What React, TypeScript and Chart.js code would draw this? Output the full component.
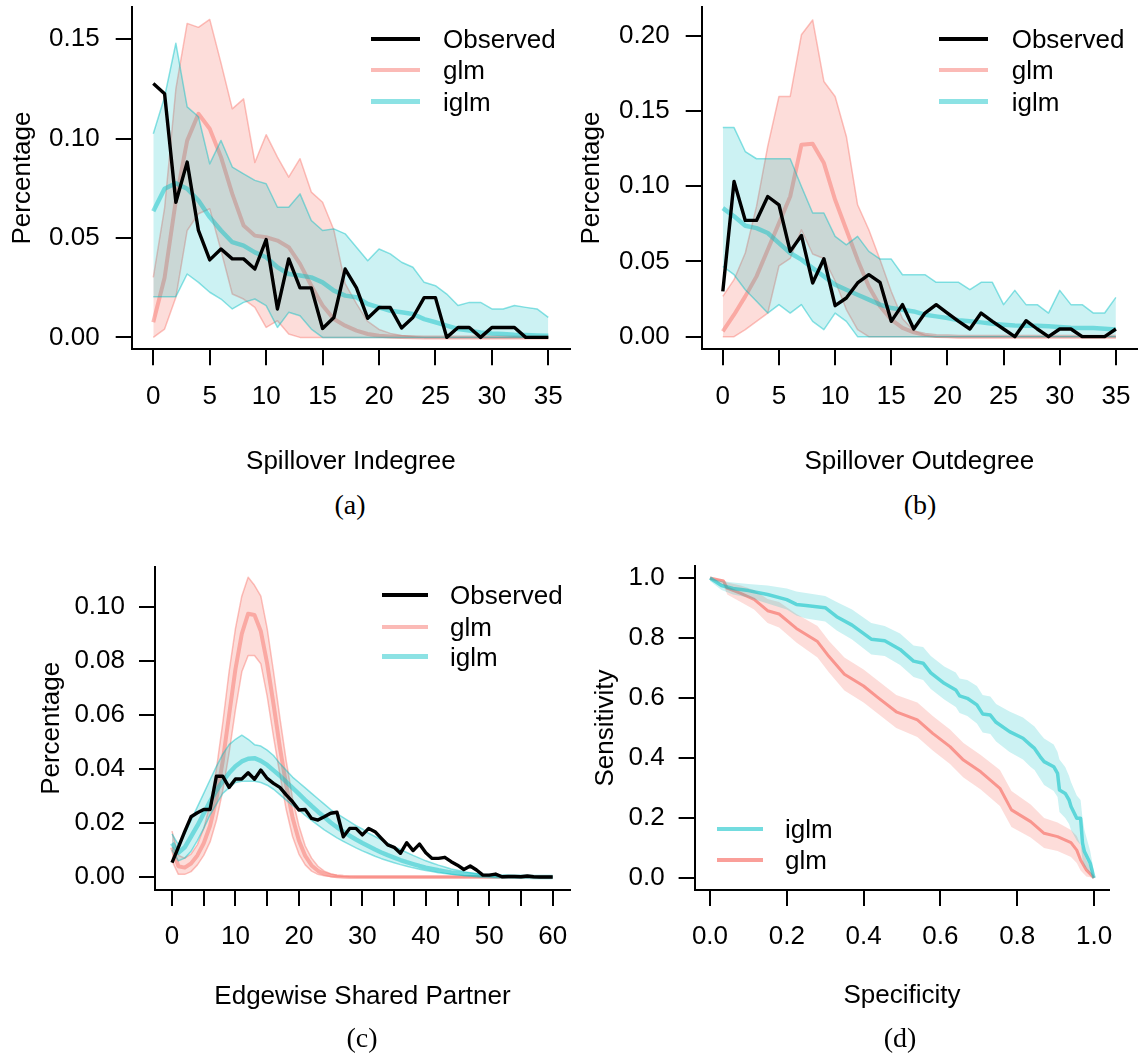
import React, { useEffect, useRef } from "react";
import { Chart, registerables } from "chart.js";

Chart.register(...registerables);

const FONT = "'Liberation Sans', Arial, Helvetica, sans-serif";
const SERIF = "'Liberation Serif', 'DejaVu Serif', serif";

// ---------- categories ----------
const degree = [0, 1, 2, 3, 4, 5, 6, 7, 8, 9, 10, 11, 12, 13, 14, 15, 16, 17, 18, 19, 20, 21, 22, 23, 24, 25, 26, 27, 28, 29, 30, 31, 32, 33, 34, 35];
const esp = [0, 1, 2, 3, 4, 5, 6, 7, 8, 9, 10, 11, 12, 13, 14, 15, 16, 17, 18, 19, 20, 21, 22, 23, 24, 25, 26, 27, 28, 29, 30, 31, 32, 33, 34, 35, 36, 37, 38, 39, 40, 41, 42, 43, 44, 45, 46, 47, 48, 49, 50, 51, 52, 53, 54, 55, 56, 57, 58, 59, 60];

// ---------- tick values ----------
const degreeTicks = [0, 5, 10, 15, 20, 25, 30, 35];
const espTicks = [0, 5, 10, 15, 20, 25, 30, 35, 40, 45, 50, 55, 60];
const pctTicksA = [0, 0.05, 0.1, 0.15];
const pctTicksB = [0, 0.05, 0.1, 0.15, 0.2];
const pctTicksC = [0, 0.02, 0.04, 0.06, 0.08, 0.1];
const rocTicks = [0, 0.2, 0.4, 0.6, 0.8, 1.0];

// ---------- (a) Spillover Indegree ----------
const obsA = [0.1277, 0.1226, 0.068, 0.0882, 0.0538, 0.039, 0.0445, 0.0395, 0.0395, 0.0344, 0.0492, 0.0143, 0.0395, 0.0249, 0.0249, 0.0045, 0.01, 0.0344, 0.0249, 0.0096, 0.015, 0.015, 0.0047, 0.01, 0.02, 0.02, 0, 0.005, 0.005, 0, 0.005, 0.005, 0.005, 0, 0, 0];
const iglmMeanA = [0.0635, 0.0748, 0.0776, 0.0748, 0.0689, 0.0605, 0.0538, 0.0479, 0.0462, 0.0428, 0.0403, 0.0353, 0.0319, 0.0311, 0.0302, 0.0277, 0.0235, 0.021, 0.0202, 0.0168, 0.0151, 0.0134, 0.0126, 0.0118, 0.0092, 0.0076, 0.0059, 0.0042, 0.0034, 0.0025, 0.002, 0.0017, 0.0013, 0.0012, 0.001, 0.0008];
const iglmUpA = [0.1025, 0.121, 0.148, 0.116, 0.111, 0.0873, 0.0991, 0.0857, 0.0823, 0.079, 0.0773, 0.0655, 0.0655, 0.0722, 0.0588, 0.0538, 0.0546, 0.0521, 0.0454, 0.0386, 0.0445, 0.042, 0.0378, 0.0353, 0.0277, 0.026, 0.0218, 0.016, 0.0176, 0.0176, 0.0143, 0.0143, 0.016, 0.0151, 0.0143, 0.0101];
const iglmLoA = [0.0205, 0.0205, 0.0205, 0.0319, 0.0277, 0.0227, 0.0193, 0.0143, 0.0176, 0.0193, 0.016, 0.005, 0.0126, 0.0109, 0.0042, 0, 0, 0, 0, 0, 0, 0, 0, 0, 0, 0, 0, 0, 0, 0, 0, 0, 0, 0, 0, 0];
const glmMeanA = [0.0076, 0.03, 0.069, 0.099, 0.1125, 0.105, 0.0907, 0.0722, 0.0563, 0.0512, 0.0504, 0.0487, 0.0454, 0.037, 0.026, 0.016, 0.0092, 0.0059, 0.0034, 0.0017, 0.0008, 0.0004, 0.0002, 0.0001, 0, 0, 0, 0, 0, 0, 0, 0, 0, 0, 0, 0];
const glmUpA = [0.0302, 0.065, 0.125, 0.158, 0.156, 0.16, 0.138, 0.115, 0.12, 0.088, 0.102, 0.0907, 0.0806, 0.0899, 0.0731, 0.068, 0.054, 0.027, 0.017, 0.008, 0.004, 0.002, 0.001, 0.0005, 0, 0, 0, 0, 0, 0, 0, 0, 0, 0, 0, 0];
const glmLoA = [0, 0.0042, 0.0202, 0.0538, 0.0622, 0.0647, 0.0437, 0.0218, 0.0193, 0.0151, 0.005, 0.0084, 0.0017, 0, 0, 0, 0, 0, 0, 0, 0, 0, 0, 0, 0, 0, 0, 0, 0, 0, 0, 0, 0, 0, 0, 0];

// ---------- (b) Spillover Outdegree ----------
const obsB = [0.0301, 0.1032, 0.0773, 0.0773, 0.0932, 0.0877, 0.0567, 0.0673, 0.0357, 0.0518, 0.0206, 0.0257, 0.0357, 0.0412, 0.0361, 0.0102, 0.0213, 0.0051, 0.0157, 0.0213, 0.0157, 0.0102, 0.0051, 0.0157, 0.0102, 0.0051, 0, 0.0106, 0.0051, 0, 0.0051, 0.0051, 0, 0, 0, 0.0051];
const iglmMeanB = [0.0855, 0.08, 0.0738, 0.0722, 0.0689, 0.0622, 0.0556, 0.0512, 0.0456, 0.0401, 0.0346, 0.0312, 0.0279, 0.0246, 0.0213, 0.019, 0.0179, 0.0168, 0.0146, 0.0135, 0.0124, 0.0109, 0.0102, 0.0095, 0.0086, 0.008, 0.0075, 0.0073, 0.0073, 0.0069, 0.0064, 0.006, 0.0058, 0.0058, 0.0053, 0.0047];
const iglmUpB = [0.139, 0.139, 0.1231, 0.1183, 0.1183, 0.1183, 0.1183, 0.0999, 0.0822, 0.0822, 0.0667, 0.0611, 0.0667, 0.0567, 0.0516, 0.0516, 0.0412, 0.0412, 0.0412, 0.0361, 0.0361, 0.0361, 0.0312, 0.0361, 0.0361, 0.0213, 0.0308, 0.0213, 0.0213, 0.0157, 0.0308, 0.0213, 0.0213, 0.0157, 0.0157, 0.0261];
const iglmLoB = [0.0467, 0.0412, 0.0312, 0.0235, 0.0157, 0.0213, 0.0157, 0.0213, 0.0102, 0.0047, 0.0157, 0.0102, 0, 0, 0, 0, 0, 0, 0, 0, 0, 0, 0, 0, 0, 0, 0, 0, 0, 0, 0, 0, 0, 0, 0, 0];
const glmMeanB = [0.0035, 0.0146, 0.0268, 0.0401, 0.0578, 0.0755, 0.0932, 0.1276, 0.1282, 0.1154, 0.091, 0.0711, 0.0512, 0.0334, 0.0202, 0.0113, 0.0058, 0.0029, 0.0013, 0.0005, 0.0002, 0, 0, 0, 0, 0, 0, 0, 0, 0, 0, 0, 0, 0, 0, 0];
const glmUpB = [0.0268, 0.0379, 0.0556, 0.0866, 0.1265, 0.1597, 0.1597, 0.2007, 0.2106, 0.1697, 0.1597, 0.1331, 0.0877, 0.0711, 0.0512, 0.03, 0.012, 0.004, 0.001, 0, 0, 0, 0, 0, 0, 0, 0, 0, 0, 0, 0, 0, 0, 0, 0, 0];
const glmLoB = [0, 0, 0.0047, 0.0102, 0.0157, 0.047, 0.052, 0.071, 0.055, 0.052, 0.037, 0.018, 0.0047, 0, 0, 0, 0, 0, 0, 0, 0, 0, 0, 0, 0, 0, 0, 0, 0, 0, 0, 0, 0, 0, 0, 0];

// ---------- (c) Edgewise Shared Partner ----------
const obsC = [0.0053, 0.011, 0.0168, 0.0223, 0.0238, 0.025, 0.025, 0.0373, 0.0373, 0.0332, 0.0363, 0.0363, 0.0386, 0.0362, 0.0396, 0.0365, 0.0347, 0.0332, 0.0304, 0.0279, 0.0248, 0.025, 0.0217, 0.0211, 0.0223, 0.0236, 0.024, 0.0149, 0.018, 0.018, 0.0156, 0.018, 0.0168, 0.0143, 0.0119, 0.011, 0.0088, 0.0127, 0.0098, 0.0122, 0.009, 0.0069, 0.0069, 0.0073, 0.0057, 0.0044, 0.0028, 0.0041, 0.0026, 0.0007, 0.0007, 0.0011, 0.0001, 0.0002, 0.0002, 0.0001, 0.0004, 0.0001, 0, 0, 0];
const iglmMeanC = [0.0125, 0.009, 0.011, 0.015, 0.019, 0.0235, 0.028, 0.032, 0.0355, 0.0385, 0.041, 0.0428, 0.0438, 0.044, 0.043, 0.0415, 0.0395, 0.0375, 0.0352, 0.033, 0.0308, 0.0285, 0.0263, 0.0242, 0.0222, 0.0202, 0.0184, 0.0168, 0.0153, 0.0139, 0.0126, 0.0114, 0.0102, 0.0091, 0.0081, 0.0072, 0.0063, 0.0055, 0.0048, 0.0041, 0.0035, 0.003, 0.0025, 0.0021, 0.0017, 0.0014, 0.0011, 0.0009, 0.0007, 0.0005, 0.0004, 0.0003, 0.0002, 0.0002, 0.0001, 0.0001, 0.0001, 0, 0, 0, 0];
const iglmUpC = [0.016, 0.012, 0.016, 0.021, 0.026, 0.031, 0.036, 0.041, 0.0455, 0.049, 0.051, 0.0525, 0.051, 0.049, 0.0485, 0.047, 0.045, 0.042, 0.0395, 0.037, 0.035, 0.033, 0.031, 0.029, 0.027, 0.025, 0.0235, 0.022, 0.0205, 0.019, 0.0178, 0.0162, 0.015, 0.0138, 0.0125, 0.0112, 0.0102, 0.0091, 0.008, 0.007, 0.006, 0.0052, 0.0044, 0.0037, 0.003, 0.0025, 0.002, 0.0016, 0.0012, 0.0009, 0.0007, 0.0005, 0.0004, 0.0003, 0.0002, 0.0002, 0.0001, 0, 0, 0, 0];
const iglmLoC = [0.01, 0.006, 0.007, 0.0095, 0.0135, 0.018, 0.023, 0.027, 0.031, 0.033, 0.035, 0.0355, 0.0355, 0.0355, 0.035, 0.034, 0.0325, 0.0305, 0.0285, 0.0265, 0.0248, 0.0228, 0.021, 0.0192, 0.0175, 0.016, 0.0145, 0.0132, 0.012, 0.0108, 0.0097, 0.0087, 0.0077, 0.0068, 0.006, 0.0053, 0.0046, 0.004, 0.0034, 0.0029, 0.0024, 0.002, 0.0016, 0.0013, 0.001, 0.0008, 0.0006, 0.0005, 0.0004, 0.0003, 0.0002, 0, 0, 0, 0, 0, 0, 0, 0, 0, 0];
const glmMeanC = [0.011, 0.004, 0.0035, 0.005, 0.008, 0.0125, 0.019, 0.029, 0.043, 0.06, 0.077, 0.09, 0.0975, 0.097, 0.091, 0.079, 0.064, 0.048, 0.034, 0.022, 0.0135, 0.0078, 0.0043, 0.0023, 0.0012, 0.0006, 0.0003, 0.0001, 0, 0, 0, 0, 0, 0, 0, 0, 0, 0, 0, 0, 0, 0, 0, 0, 0, 0, 0, 0, 0, 0, 0, 0, 0, 0, 0, 0, 0, 0, 0, 0, 0];
const glmUpC = [0.017, 0.008, 0.007, 0.0085, 0.012, 0.018, 0.027, 0.04, 0.057, 0.076, 0.092, 0.104, 0.111, 0.108, 0.104, 0.092, 0.076, 0.059, 0.043, 0.029, 0.019, 0.0115, 0.007, 0.004, 0.0022, 0.0012, 0.0006, 0.0003, 0.0001, 0, 0, 0, 0, 0, 0, 0, 0, 0, 0, 0, 0, 0, 0, 0, 0, 0, 0, 0, 0, 0, 0, 0, 0, 0, 0, 0, 0, 0, 0, 0, 0];
const glmLoC = [0.006, 0.001, 0.001, 0.002, 0.0045, 0.008, 0.013, 0.021, 0.032, 0.046, 0.062, 0.076, 0.082, 0.082, 0.079, 0.067, 0.052, 0.038, 0.025, 0.015, 0.0085, 0.0045, 0.0022, 0.001, 0.0005, 0.0002, 0, 0, 0, 0, 0, 0, 0, 0, 0, 0, 0, 0, 0, 0, 0, 0, 0, 0, 0, 0, 0, 0, 0, 0, 0, 0, 0, 0, 0, 0, 0, 0, 0, 0, 0];

// ---------- (d) ROC ----------
const specIglm = [0, 0.03, 0.06, 0.1, 0.15, 0.2, 0.225, 0.25, 0.3, 0.33, 0.37, 0.42, 0.455, 0.495, 0.53, 0.555, 0.575, 0.61, 0.64, 0.65, 0.67, 0.695, 0.71, 0.73, 0.745, 0.78, 0.815, 0.835, 0.845, 0.86, 0.87, 0.895, 0.905, 0.91, 0.925, 0.935, 0.94, 0.955, 0.965, 0.97, 0.975, 0.99, 1.0];
const sensIglm = [1.0, 0.975, 0.965, 0.958, 0.945, 0.928, 0.912, 0.908, 0.901, 0.871, 0.843, 0.796, 0.791, 0.762, 0.723, 0.716, 0.684, 0.649, 0.627, 0.607, 0.599, 0.577, 0.547, 0.543, 0.519, 0.488, 0.466, 0.443, 0.432, 0.404, 0.388, 0.371, 0.349, 0.293, 0.282, 0.26, 0.238, 0.199, 0.199, 0.116, 0.088, 0.049, 0.0];
const upIglm = [1.0, 0.99, 0.985, 0.98, 0.975, 0.965, 0.955, 0.95, 0.94, 0.92, 0.895, 0.85, 0.84, 0.815, 0.775, 0.77, 0.74, 0.705, 0.685, 0.665, 0.66, 0.64, 0.61, 0.605, 0.58, 0.555, 0.535, 0.515, 0.505, 0.48, 0.465, 0.445, 0.42, 0.395, 0.37, 0.34, 0.32, 0.275, 0.26, 0.2, 0.16, 0.09, 0.02];
const loIglm = [0.99, 0.96, 0.945, 0.935, 0.915, 0.895, 0.875, 0.865, 0.855, 0.825, 0.795, 0.745, 0.74, 0.71, 0.67, 0.66, 0.63, 0.595, 0.57, 0.55, 0.54, 0.515, 0.485, 0.48, 0.455, 0.42, 0.395, 0.37, 0.36, 0.33, 0.31, 0.29, 0.27, 0.22, 0.2, 0.18, 0.16, 0.125, 0.11, 0.06, 0.04, 0.015, 0.0];
const specGlm = [0, 0.035, 0.045, 0.08, 0.115, 0.15, 0.18, 0.225, 0.28, 0.31, 0.35, 0.4, 0.435, 0.485, 0.54, 0.58, 0.625, 0.66, 0.705, 0.755, 0.785, 0.835, 0.87, 0.905, 0.94, 0.955, 0.965, 0.98, 1.0];
const sensGlm = [1.0, 0.99, 0.966, 0.949, 0.929, 0.891, 0.88, 0.832, 0.788, 0.738, 0.679, 0.64, 0.604, 0.554, 0.527, 0.482, 0.438, 0.393, 0.354, 0.299, 0.227, 0.188, 0.149, 0.138, 0.118, 0.093, 0.06, 0.027, 0.0];
const upGlm = [1.0, 0.995, 0.985, 0.975, 0.96, 0.93, 0.92, 0.88, 0.84, 0.79, 0.735, 0.695, 0.66, 0.61, 0.585, 0.54, 0.495, 0.45, 0.41, 0.36, 0.29, 0.245, 0.2, 0.185, 0.16, 0.14, 0.11, 0.06, 0.01];
const loGlm = [0.995, 0.975, 0.945, 0.92, 0.895, 0.85, 0.835, 0.785, 0.735, 0.685, 0.625, 0.585, 0.55, 0.5, 0.47, 0.425, 0.38, 0.335, 0.295, 0.24, 0.17, 0.135, 0.1, 0.09, 0.07, 0.05, 0.025, 0.005, 0.0];

// ---------- styles ----------
const TEAL_FILL = "rgba(0,191,196,0.2)";
const TEAL_EDGE = "rgba(0,191,196,0.45)";
const TEAL_MEAN = "rgba(0,191,196,0.45)";
const PINK_FILL = "rgba(248,118,109,0.25)";
const PINK_EDGE = "rgba(248,118,109,0.45)";
const PINK_MEAN = "rgba(248,118,109,0.5)";
const TEAL_ROC = "rgba(0,191,196,0.55)";
const PINK_ROC = "rgba(248,118,109,0.7)";
const OBS_W = 3.4;

const xy = (xs: number[], ys: number[]) => xs.map((x, i) => ({ x, y: ys[i] }));

function line(data: any, color: string, width: number, extra: any = {}) {
  return {
    data,
    borderColor: color,
    borderWidth: width,
    backgroundColor: "transparent",
    pointRadius: 0,
    pointHoverRadius: 0,
    tension: 0,
    fill: false,
    borderJoinStyle: "round",
    ...extra,
  };
}

function degreeDatasets(xs: number[], obs: number[], im: number[], iu: number[], il: number[], gm: number[], gu: number[], gl: number[]) {
  return [
    line(xy(xs, obs), "#000", OBS_W),
    line(xy(xs, im), TEAL_MEAN, 4.5),
    line(xy(xs, iu), TEAL_EDGE, 1.5, { fill: "+1", backgroundColor: TEAL_FILL }),
    line(xy(xs, il), TEAL_EDGE, 1.5),
    line(xy(xs, gm), PINK_MEAN, 4),
    line(xy(xs, gu), PINK_EDGE, 1.5, { fill: "+1", backgroundColor: PINK_FILL }),
    line(xy(xs, gl), PINK_EDGE, 1.5),
  ];
}

const rocDatasets = [
  line(xy(specIglm, sensIglm), TEAL_ROC, 3.5),
  line(xy(specIglm, upIglm), "transparent", 0, { fill: "+1", backgroundColor: TEAL_FILL }),
  line(xy(specIglm, loIglm), "transparent", 0),
  line(xy(specGlm, sensGlm), PINK_ROC, 3),
  line(xy(specGlm, upGlm), "transparent", 0, { fill: "+1", backgroundColor: PINK_FILL }),
  line(xy(specGlm, loGlm), "transparent", 0),
];

type AxisSpec = {
  min: number;
  max: number;
  ticks: number[];
  fmt: (v: number) => string;
  title: string;
  size: number;
  tickPad: number;
  titlePad: number;
};

function makeScale(o: AxisSpec, horizontal: boolean) {
  return {
    type: "linear",
    position: horizontal ? "bottom" : "left",
    min: o.min,
    max: o.max,
    bounds: "data",
    afterBuildTicks: (s: any) => {
      s.ticks = o.ticks.map((v) => ({ value: v }));
    },
    afterFit: (s: any) => {
      if (horizontal) s.height = o.size;
      else s.width = o.size;
      s.paddingLeft = 0;
      s.paddingRight = 0;
      s.paddingTop = 0;
      s.paddingBottom = 0;
    },
    ticks: {
      autoSkip: false,
      maxRotation: 0,
      minRotation: 0,
      color: "#000",
      font: { family: FONT, size: 26 },
      padding: o.tickPad,
      callback: (v: any) => o.fmt(Number(v)),
    },
    grid: {
      display: true,
      drawOnChartArea: false,
      drawTicks: true,
      tickLength: 16,
      tickWidth: 2,
      tickColor: "#000",
      color: "#000",
      lineWidth: 2,
    },
    border: { display: true, color: "#000", width: 2 },
    title: {
      display: true,
      text: o.title,
      color: "#000",
      font: { family: FONT, size: 26 },
      padding: horizontal ? { top: 0, bottom: o.titlePad } : { top: o.titlePad, bottom: 0 },
    },
  };
}

type PanelSpec = {
  left: number;
  top: number;
  width: number;
  height: number;
  padding: { left: number; right: number; top: number; bottom: number };
  x: AxisSpec;
  y: AxisSpec;
  datasets: any[];
};

const fmtInt = (v: number) => String(Math.round(v));
const fmt2 = (v: number) => v.toFixed(2);
const fmt1 = (v: number) => v.toFixed(1);
const fmtTen = (v: number) => (Math.round(v) % 10 === 0 ? String(Math.round(v)) : "");

const panelA: PanelSpec = {
  left: 0, top: 0, width: 575, height: 485,
  padding: { left: 0, right: 5, top: 6.7, bottom: 0 },
  x: { min: -1.914, max: 36.923, ticks: degreeTicks, fmt: fmtInt, title: "Spillover Indegree", size: 135.7, tickPad: 16, titlePad: 7.7 },
  y: { min: -0.006, max: 0.1664, ticks: pctTicksA, fmt: fmt2, title: "Percentage", size: 131.7, tickPad: 16, titlePad: 6.9 },
  datasets: degreeDatasets(degree, obsA, iglmMeanA, iglmUpA, iglmLoA, glmMeanA, glmUpA, glmLoA),
};

const panelB: PanelSpec = {
  left: 575, top: 0, width: 565, height: 485,
  padding: { left: 0, right: 3, top: 6.7, bottom: 0 },
  x: { min: -1.88, max: 36.88, ticks: degreeTicks, fmt: fmtInt, title: "Spillover Outdegree", size: 135.7, tickPad: 16, titlePad: 7.7 },
  y: { min: -0.0084, max: 0.2194, ticks: pctTicksB, fmt: fmt2, title: "Percentage", size: 126.7, tickPad: 16, titlePad: 1.1 },
  datasets: degreeDatasets(degree, obsB, iglmMeanB, iglmUpB, iglmLoB, glmMeanB, glmUpB, glmLoB),
};

const panelC: PanelSpec = {
  left: 0, top: 540, width: 575, height: 485,
  padding: { left: 0, right: 5, top: 26.7, bottom: 0 },
  x: { min: -2.68, max: 62.73, ticks: espTicks, fmt: fmtTen, title: "Edgewise Shared Partner", size: 135, tickPad: 15, titlePad: 12.7 },
  y: { min: -0.0048, max: 0.1149, ticks: pctTicksC, fmt: fmt2, title: "Percentage", size: 155, tickPad: 14, titlePad: 36.4 },
  datasets: degreeDatasets(esp, obsC, iglmMeanC, iglmUpC, iglmLoC, glmMeanC, glmUpC, glmLoC),
};

const panelD: PanelSpec = {
  left: 575, top: 540, width: 565, height: 485,
  padding: { left: 0, right: 30.6, top: 26, bottom: 0 },
  x: { min: -0.04, max: 1.04, ticks: rocTicks, fmt: fmt1, title: "Specificity", size: 135, tickPad: 15, titlePad: 13.4 },
  y: { min: -0.04, max: 1.04, ticks: rocTicks, fmt: fmt1, title: "Sensitivity", size: 119.6, tickPad: 14, titlePad: 15.4 },
  datasets: rocDatasets,
};

function ChartPanel({ spec }: { spec: PanelSpec }) {
  const ref = useRef<HTMLCanvasElement | null>(null);
  useEffect(() => {
    if (!ref.current) return;
    const chart = new Chart(ref.current, {
      type: "line",
      data: { datasets: spec.datasets },
      options: {
        responsive: false,
        maintainAspectRatio: false,
        devicePixelRatio: 1,
        animation: false,
        parsing: true,
        layout: { padding: spec.padding, autoPadding: false },
        plugins: { legend: { display: false }, tooltip: { enabled: false }, title: { display: false } },
        scales: {
          x: makeScale(spec.x, true),
          y: makeScale(spec.y, false),
        },
      } as any,
    });
    return () => chart.destroy();
  }, [spec]);
  return (
    <canvas
      ref={ref}
      width={spec.width}
      height={spec.height}
      style={{ position: "absolute", left: spec.left, top: spec.top, width: spec.width, height: spec.height }}
    />
  );
}

type LegendItem = { label: string; color: string; w: number };

function Legend({ items, x1, x2, tx, rows }: { items: LegendItem[]; x1: number; x2: number; tx: number; rows: number[] }) {
  return (
    <>
      {items.map((it, i) => (
        <React.Fragment key={i}>
          <div style={{ position: "absolute", left: x1, top: rows[i] - it.w / 2, width: x2 - x1, height: it.w, background: it.color }} />
          <div
            style={{
              position: "absolute",
              left: tx,
              top: rows[i] - 15,
              fontFamily: FONT,
              fontSize: 26,
              lineHeight: "30px",
              color: "#000",
              whiteSpace: "nowrap",
            }}
          >
            {it.label}
          </div>
        </React.Fragment>
      ))}
    </>
  );
}

function Caption({ text, cx, cy }: { text: string; cx: number; cy: number }) {
  return (
    <div
      style={{
        position: "absolute",
        left: cx - 50,
        width: 100,
        top: cy - 18,
        textAlign: "center",
        fontFamily: SERIF,
        fontSize: 28,
        lineHeight: "32px",
        color: "#000",
      }}
    >
      {text}
    </div>
  );
}

const threeItems: LegendItem[] = [
  { label: "Observed", color: "#000", w: OBS_W },
  { label: "glm", color: PINK_MEAN, w: 4 },
  { label: "iglm", color: TEAL_MEAN, w: 4.5 },
];
const rocItems: LegendItem[] = [
  { label: "iglm", color: TEAL_ROC, w: 4 },
  { label: "glm", color: PINK_ROC, w: 4 },
];

export default function App() {
  return (
    <div style={{ position: "absolute", left: 0, top: 0, width: 1140, height: 1057, background: "#fff", overflow: "hidden" }}>
      <ChartPanel spec={panelA} />
      <ChartPanel spec={panelB} />
      <ChartPanel spec={panelC} />
      <ChartPanel spec={panelD} />
      <Legend items={threeItems} x1={370.7} x2={420} tx={443} rows={[39, 70, 101.5]} />
      <Legend items={threeItems} x1={939.3} x2={988.3} tx={1011.7} rows={[39, 70, 101.5]} />
      <Legend items={threeItems} x1={381.7} x2={428.3} tx={450} rows={[595, 626.7, 656.7]} />
      <Legend items={rocItems} x1={716.7} x2={762.7} tx={785} rows={[829, 860]} />
      <Caption text="(a)" cx={350} cy={507} />
      <Caption text="(b)" cx={920} cy={507} />
      <Caption text="(c)" cx={362} cy={1040} />
      <Caption text="(d)" cx={900} cy={1040} />
    </div>
  );
}
